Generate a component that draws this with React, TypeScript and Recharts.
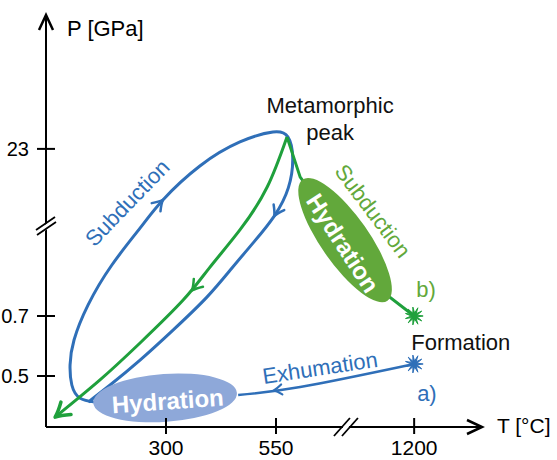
import React from 'react';
import { ComposedChart, Line, Scatter, XAxis, YAxis } from 'recharts';

const FONT = "'Liberation Sans', Arial, Helvetica, sans-serif";
const BLUE = '#2f6fb8';
const BLUE_FILL = '#8ea8d9';
const GREEN = '#1fa03c';
const GREEN_FILL = '#62a83b';

// Schematic (broken) axes: tick positions in axis units and their printed labels
const xTickValues = [300, 550, 864];
const xTickLabels = ['300', '550', '1200'];
const yTickValues = [0.5, 0.7, 1.257];
const yTickLabels = ['0.5', '0.7', '23'];
const xDomain = [27.3, 1018.2];
const yDomain = [0.33, 1.7033];

// a) blue P-T loop (subduction up the left, return down the right)
const bluePath = [
  { t: 139, p: 0.413 }, { t: 104, p: 0.427 }, { t: 86, p: 0.47 }, { t: 82, p: 0.537 },
  { t: 91, p: 0.62 }, { t: 123, p: 0.737 }, { t: 177, p: 0.87 }, { t: 241, p: 0.993 },
  { t: 293, p: 1.087 }, { t: 377, p: 1.2 }, { t: 468, p: 1.28 }, { t: 543, p: 1.313 },
  { t: 577, p: 1.297 }, { t: 588, p: 1.227 }, { t: 578, p: 1.127 }, { t: 546, p: 1.033 },
  { t: 500, p: 0.947 }, { t: 450, p: 0.86 }, { t: 393, p: 0.763 }, { t: 316, p: 0.653 },
  { t: 241, p: 0.553 }, { t: 173, p: 0.47 }, { t: 123, p: 0.413 },
];
// a) exhumation from formation to the hydration zone
const exhumationPath = [{ t: 864, p: 0.54 }, { t: 605, p: 0.463 }, { t: 464, p: 0.437 }];
// b) green path: formation -> metamorphic peak
const greenUpPath = [{ t: 864, p: 0.7 }, { t: 805, p: 0.767 }, { t: 605, p: 1.163 }, { t: 575, p: 1.297 }];
// b) green path: metamorphic peak -> origin
const greenDownPath = [
  { t: 575, p: 1.297 }, { t: 530, p: 1.13 }, { t: 468, p: 0.987 }, { t: 400, p: 0.863 },
  { t: 339, p: 0.753 }, { t: 241, p: 0.61 }, { t: 150, p: 0.487 }, { t: 48, p: 0.363 },
];
const formationPoints = [
  { t: 864, p: 0.54, id: 'a' },
  { t: 864, p: 0.7, id: 'b' },
];
const hydrationZones = [
  { t: 298, p: 0.427, id: 'blue' },
  { t: 707, p: 0.953, id: 'green' },
];
const arrowMarks = [
  { t: 293, p: 1.087, id: 'blueUp' },
  { t: 546, p: 1.033, id: 'blueDown' },
  { t: 359, p: 0.785, id: 'greenMid' },
  { t: 48, p: 0.363, id: 'greenEnd' },
  { t: 545, p: 0.452, id: 'exh' },
];
const notes = [
  { id: 'peak1', text: 'Metamorphic', t: 673, p: 1.4 },
  { id: 'peak2', text: 'peak', t: 673, p: 1.31 },
  { id: 'formation', text: 'Formation', t: 970, p: 0.61 },
  { id: 'a', text: 'a)', t: 893, p: 0.443 },
  { id: 'b', text: 'b)', t: 891, p: 0.787 },
  { id: 'subBlue', text: 'Subduction', t: 212, p: 1.077 },
  { id: 'subGreen', text: 'Subduction', t: 770, p: 1.05 },
  { id: 'exh', text: 'Exhumation', t: 650, p: 0.527 },
  { id: 'hydBlue', text: 'Hydration', t: 304, p: 0.417 },
  { id: 'hydGreen', text: 'Hydration', t: 702, p: 0.943 },
];
const axisEnds = [
  { t: 27.3, p: 1.7033, id: 'yArrow' },
  { t: 1018.2, p: 0.33, id: 'xArrow' },
  { t: 27.3, p: 1.0, id: 'yBreak' },
  { t: 709, p: 0.33, id: 'xBreak' },
];

// ---------- styles ----------
const ZONE_STYLE: Record<string, any> = {
  blue: { rx: 72, ry: 24, rot: -4, fill: BLUE_FILL },
  green: { rx: 74, ry: 24, rot: 55, fill: GREEN_FILL },
};
const ARROW_STYLE: Record<string, any> = {
  blueUp: { angle: -47, color: BLUE, len: 10, half: 6, w: 2.5 },
  blueDown: { angle: 118, color: BLUE, len: 10, half: 6, w: 2.5 },
  greenMid: { angle: 130, color: GREEN, len: 10, half: 6, w: 2.5 },
  greenEnd: { angle: 141, color: GREEN, len: 14, half: 8, w: 3.5 },
  exh: { angle: 173, color: BLUE, len: 8, half: 5, w: 2.2 },
};
const NOTE_STYLE: Record<string, any> = {
  peak1: { fill: '#111', size: 22, rot: 0 },
  peak2: { fill: '#111', size: 22, rot: 0 },
  formation: { fill: '#111', size: 22, rot: 0 },
  a: { fill: BLUE, size: 22, rot: 0 },
  b: { fill: GREEN_FILL, size: 22, rot: 0 },
  subBlue: { fill: BLUE, size: 22, rot: -46 },
  subGreen: { fill: GREEN_FILL, size: 22, rot: 53 },
  exh: { fill: BLUE, size: 22, rot: -8.5 },
  hydBlue: { fill: '#fff', size: 24, rot: -4, bold: true },
  hydGreen: { fill: '#fff', size: 24, rot: 57, bold: true },
};

const XTick = (props: any) => {
  const { x, y, payload } = props;
  const i = xTickValues.indexOf(payload.value);
  return (
    <g>
      <line x1={x} x2={x} y1={y - 9} y2={y + 7} stroke="#000" strokeWidth={2} />
      <text x={x} y={y + 28} textAnchor="middle" fontSize={21} fill="#000" fontFamily={FONT}>
        {xTickLabels[i]}
      </text>
    </g>
  );
};

const YTick = (props: any) => {
  const { x, y, payload } = props;
  const i = yTickValues.indexOf(payload.value);
  return (
    <g>
      <line x1={x - 9} x2={x + 9} y1={y} y2={y} stroke="#000" strokeWidth={2} />
      <text x={x - 17} y={y + 7} textAnchor="end" fontSize={20} fill="#000" fontFamily={FONT}>
        {yTickLabels[i]}
      </text>
    </g>
  );
};

const starPath = (cx: number, cy: number) => {
  const pts: string[] = [];
  const n = 11;
  for (let k = 0; k < n * 2; k++) {
    const r = k % 2 === 0 ? 9 : 3;
    const a = (Math.PI * k) / n;
    pts.push(`${cx + r * Math.cos(a)},${cy + r * Math.sin(a)}`);
  }
  return pts.join(' ');
};

const StarShape = (props: any) => {
  const { cx, cy, payload } = props;
  const color = payload.id === 'a' ? BLUE : GREEN;
  return <polygon points={starPath(cx, cy)} fill={color} stroke={color} strokeWidth={1} />;
};

const ZoneShape = (props: any) => {
  const { cx, cy, payload } = props;
  const s = ZONE_STYLE[payload.id];
  return <ellipse cx={cx} cy={cy} rx={s.rx} ry={s.ry} fill={s.fill} transform={`rotate(${s.rot} ${cx} ${cy})`} />;
};

const ArrowShape = (props: any) => {
  const { cx, cy, payload } = props;
  const s = ARROW_STYLE[payload.id];
  return (
    <path
      d={`M ${-s.len} ${-s.half} Q ${-s.len * 0.4} ${-s.half * 0.25} 0 0 Q ${-s.len * 0.4} ${s.half * 0.25} ${-s.len} ${s.half}`}
      fill="none"
      stroke={s.color}
      strokeWidth={s.w}
      strokeLinecap="round"
      strokeLinejoin="round"
      transform={`translate(${cx} ${cy}) rotate(${s.angle})`}
    />
  );
};

const NoteShape = (props: any) => {
  const { cx, cy, payload } = props;
  const s = NOTE_STYLE[payload.id];
  return (
    <text
      x={cx}
      y={cy}
      textAnchor="middle"
      dominantBaseline="central"
      fontSize={s.size}
      fontWeight={s.bold ? 'bold' : 'normal'}
      fill={s.fill}
      fontFamily={FONT}
      transform={`rotate(${s.rot} ${cx} ${cy})`}
    >
      {payload.text}
    </text>
  );
};

const AxisDecoShape = (props: any) => {
  const { cx, cy, payload } = props;
  switch (payload.id) {
    case 'yArrow':
      return <path d={`M ${cx - 7} ${cy + 15} L ${cx} ${cy} L ${cx + 7} ${cy + 15}`} fill="none" stroke="#000" strokeWidth={2.5} />;
    case 'xArrow':
      return <path d={`M ${cx - 15} ${cy - 7} L ${cx} ${cy} L ${cx - 15} ${cy + 7}`} fill="none" stroke="#000" strokeWidth={2.5} />;
    case 'yBreak':
      return (
        <g>
          <polygon points={`${cx - 4},${cy + 1} ${cx + 4},${cy - 5} ${cx + 4},${cy + 1} ${cx - 4},${cy + 7}`} fill="#fff" />
          <line x1={cx - 10} y1={cy + 4} x2={cx + 9} y2={cy - 9} stroke="#000" strokeWidth={1.8} />
          <line x1={cx - 9} y1={cy + 9} x2={cx + 10} y2={cy - 4} stroke="#000" strokeWidth={1.8} />
        </g>
      );
    case 'xBreak':
      return (
        <g>
          <polygon points={`${cx - 3},${cy - 4} ${cx + 3},${cy - 4} ${cx + 3},${cy + 4} ${cx - 3},${cy + 4}`} fill="#fff" />
          <line x1={cx - 12} y1={cy + 9} x2={cx + 4} y2={cy - 9} stroke="#000" strokeWidth={1.8} />
          <line x1={cx - 4} y1={cy + 9} x2={cx + 12} y2={cy - 9} stroke="#000" strokeWidth={1.8} />
        </g>
      );
    default:
      return <g />;
  }
};

const XLabel = (props: any) => {
  const vb = props.viewBox || { x: 46, y: 427, width: 436 };
  return (
    <text x={vb.x + vb.width + 15} y={vb.y - 2} dominantBaseline="central" fontSize={21} fill="#000" fontFamily={FONT}>
      T [°C]
    </text>
  );
};

const YLabel = (props: any) => {
  const vb = props.viewBox || { x: 0, y: 15, width: 46 };
  return (
    <text x={vb.x + vb.width + 21} y={vb.y + 13} dominantBaseline="central" fontSize={22} fill="#000" fontFamily={FONT}>
      P [GPa]
    </text>
  );
};

export default function App() {
  return (
    <div style={{ position: 'absolute', left: 0, top: 0, background: '#fff' }}>
      <ComposedChart width={557} height={460} margin={{ top: 15, right: 75, bottom: 0, left: 0 }}>
        <XAxis
          type="number"
          dataKey="t"
          domain={xDomain}
          ticks={xTickValues}
          interval={0}
          height={33}
          tickSize={0}
          tickMargin={0}
          tickLine={false}
          tick={<XTick />}
          axisLine={{ stroke: '#000', strokeWidth: 2 }}
          label={<XLabel />}
        />
        <YAxis
          type="number"
          dataKey="p"
          domain={yDomain}
          ticks={yTickValues}
          interval={0}
          width={46}
          tickSize={0}
          tickMargin={0}
          tickLine={false}
          tick={<YTick />}
          axisLine={{ stroke: '#000', strokeWidth: 2 }}
          label={<YLabel />}
        />
        <Line data={bluePath} dataKey="p" type="natural" stroke={BLUE} strokeWidth={3} dot={false} activeDot={false} isAnimationActive={false} />
        <Line data={exhumationPath} dataKey="p" type="natural" stroke={BLUE} strokeWidth={2.5} dot={false} activeDot={false} isAnimationActive={false} />
        <Line data={greenDownPath} dataKey="p" type="natural" stroke={GREEN} strokeWidth={3} dot={false} activeDot={false} isAnimationActive={false} />
        <Line data={greenUpPath} dataKey="p" type="linear" stroke={GREEN} strokeWidth={3} dot={false} activeDot={false} isAnimationActive={false} />
        <Scatter data={hydrationZones} dataKey="p" shape={<ZoneShape />} isAnimationActive={false} />
        <Scatter data={arrowMarks} dataKey="p" shape={<ArrowShape />} isAnimationActive={false} />
        <Scatter data={formationPoints} dataKey="p" shape={<StarShape />} isAnimationActive={false} />
        <Scatter data={notes} dataKey="p" shape={<NoteShape />} isAnimationActive={false} />
        <Scatter data={axisEnds} dataKey="p" shape={<AxisDecoShape />} isAnimationActive={false} />
      </ComposedChart>
    </div>
  );
}
